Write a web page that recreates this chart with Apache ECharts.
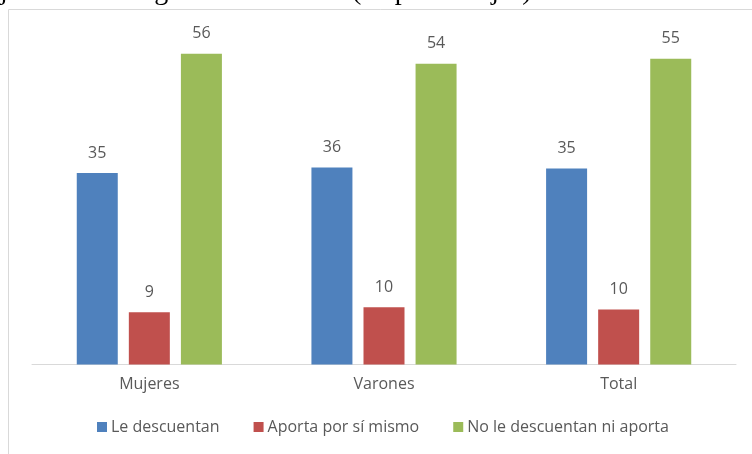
<!DOCTYPE html>
<html>
<head>
<meta charset="utf-8">
<script src="https://cdn.jsdelivr.net/npm/echarts@6/dist/echarts.min.js"></script>
<style>html,body{margin:0;padding:0;background:#fff;}#c{width:752px;height:454px;}</style>
</head>
<body>
<div id="c"></div>
<script>
var categories = ['Mujeres', 'Varones', 'Total'];
var seriesNames = ['Le descuentan', 'Aporta por sí mismo', 'No le descuentan ni aporta'];
var leDescuentan = [34.5, 35.5, 35.3];
var aportaPorSiMismo = [9.4, 10.3, 9.9];
var noLeDescuentanNiAporta = [56.0, 54.2, 55.1];
var headingWords = ['jubilatorio', 'según', 'sexo.', '2011', '(en porcentajes)'];

var colors = ['#4f81bd', '#c0504d', '#9bbb59'];
var font = 'Open Sans';
var headingX = [0, 131, 210, 283, 352];
var chart = echarts.init(document.getElementById('c'), null, {renderer: 'canvas'});
function mk(name, data, color) {
  return {
    name: name, type: 'bar', data: data, barWidth: 41, barGap: '27%',
    itemStyle: {color: color},
    label: {show: true, position: 'top', distance: 12, color: '#595959', fontFamily: font, fontSize: 16,
      formatter: function (p) { return String(Math.round(p.value)); }},
    emphasis: {disabled: true}
  };
}
var graphics = [
  {type: 'line', shape: {x1: 8.5, y1: 9.5, x2: 752, y2: 9.5}, style: {stroke: '#d9d9d9', lineWidth: 1}, silent: true},
  {type: 'line', shape: {x1: 8.5, y1: 9.5, x2: 8.5, y2: 454}, style: {stroke: '#d9d9d9', lineWidth: 1}, silent: true}
];
headingWords.forEach(function (w, i) {
  graphics.push({type: 'text', left: headingX[i], top: -22, style: {text: w, font: '28px "Liberation Serif"', fill: '#000'}, silent: true});
});
chart.setOption({
  animation: false,
  color: colors,
  grid: {left: 32, right: 16, top: 31.5, bottom: 89.5},
  xAxis: {
    type: 'category', data: categories,
    axisLine: {lineStyle: {color: '#d9d9d9', width: 1}},
    axisTick: {show: false},
    axisLabel: {color: '#595959', fontFamily: font, fontSize: 16, margin: 12}
  },
  yAxis: {type: 'value', min: 0, max: 60, show: false, splitLine: {show: false}},
  legend: {
    data: seriesNames, left: 97, top: 419, padding: 0, itemWidth: 10, itemHeight: 10, itemGap: 34, icon: 'rect',
    textStyle: {color: '#595959', fontFamily: font, fontSize: 16, padding: [0, 0, 0, -1]}
  },
  graphic: graphics,
  series: [
    mk(seriesNames[0], leDescuentan, colors[0]),
    mk(seriesNames[1], aportaPorSiMismo, colors[1]),
    mk(seriesNames[2], noLeDescuentanNiAporta, colors[2])
  ]
});
</script>
</body>
</html>
